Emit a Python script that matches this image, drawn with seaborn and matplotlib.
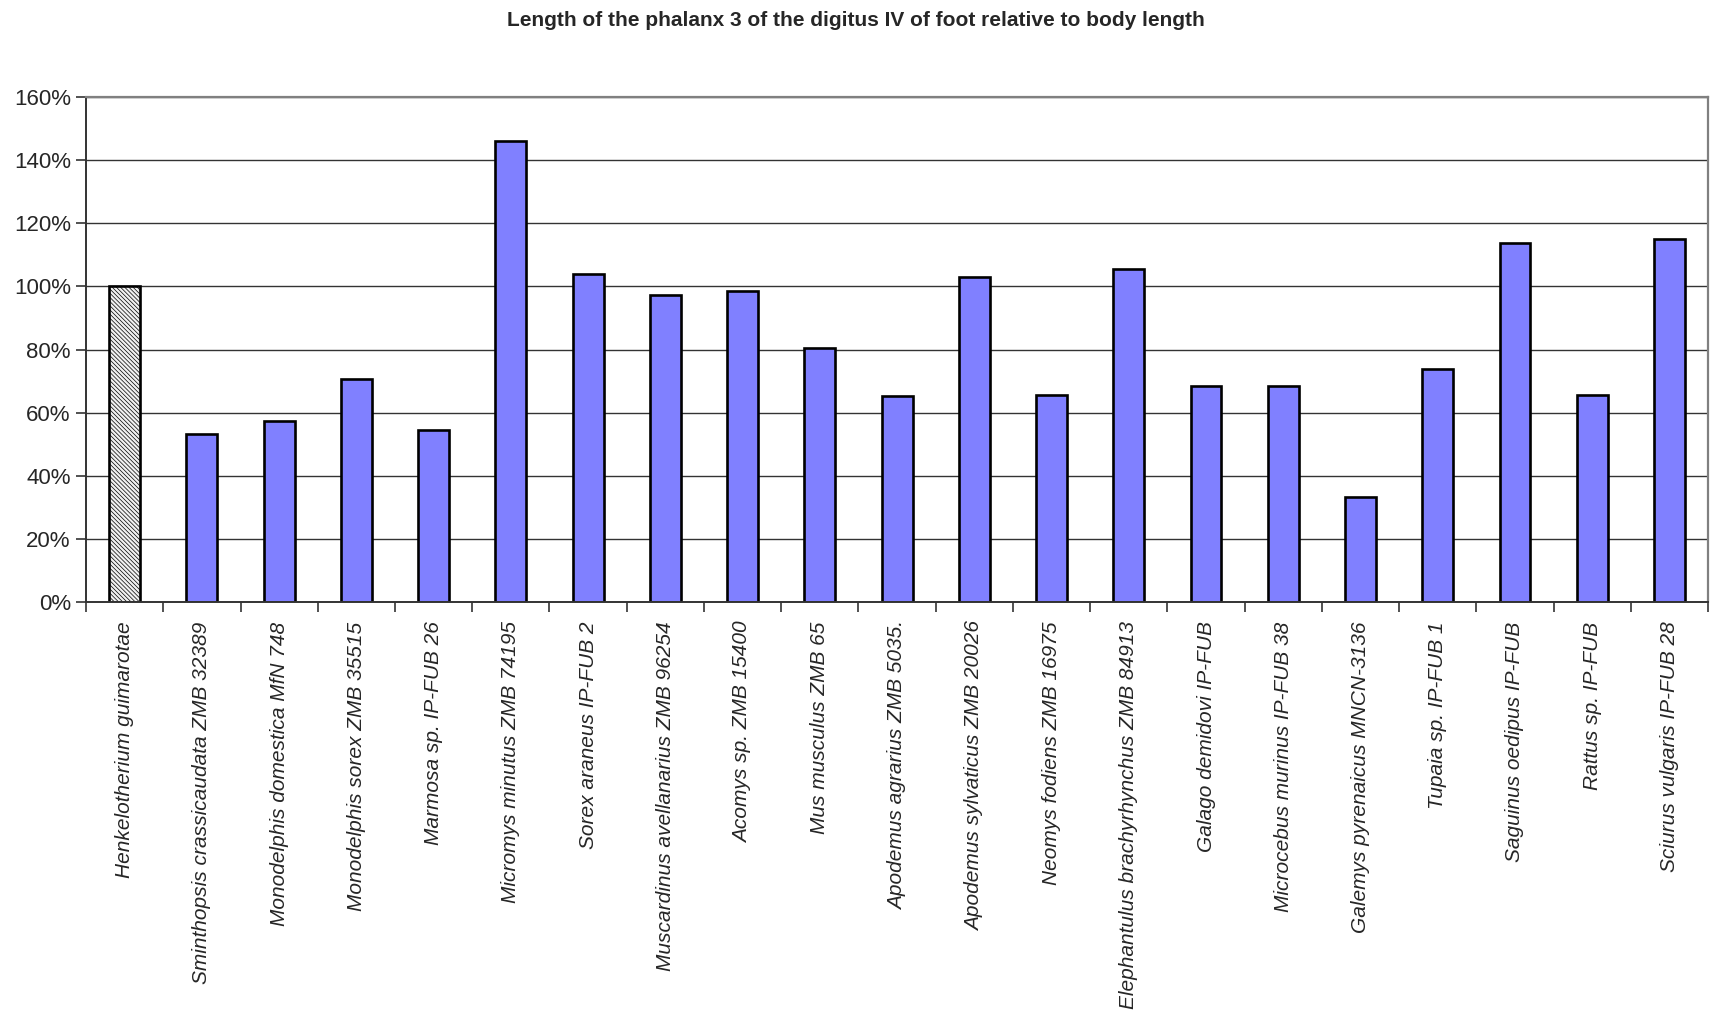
import matplotlib
matplotlib.use("Agg")
import matplotlib.pyplot as plt
from matplotlib.ticker import PercentFormatter, FixedLocator, MultipleLocator
import seaborn as sns
import pandas as pd
import numpy as np

species = [
    "Henkelotherium guimarotae",
    "Sminthopsis crassicaudata ZMB 32389",
    "Monodelphis domestica MfN 748",
    "Monodelphis sorex ZMB 35515",
    "Marmosa sp. IP-FUB 26",
    "Micromys minutus ZMB 74195",
    "Sorex araneus IP-FUB 2",
    "Muscardinus avellanarius ZMB 96254",
    "Acomys sp. ZMB 15400",
    "Mus musculus ZMB 65",
    "Apodemus agrarius ZMB 5035.",
    "Apodemus sylvaticus ZMB 20026",
    "Neomys fodiens ZMB 16975",
    "Elephantulus brachyrhynchus ZMB 84913",
    "Galago demidovi IP-FUB",
    "Microcebus murinus IP-FUB 38",
    "Galemys pyrenaicus MNCN-3136",
    "Tupaia sp. IP-FUB 1",
    "Saguinus oedipus IP-FUB",
    "Rattus sp. IP-FUB",
    "Sciurus vulgaris IP-FUB 28",
]
relative_length = [
    100.0, 53.2, 57.4, 70.8, 54.6, 146.2, 104.0, 97.4, 98.5, 80.5, 65.3,
    103.0, 65.7, 105.4, 68.4, 68.5, 33.2, 73.9, 113.7, 65.7, 115.1,
]

df = pd.DataFrame({"species": species, "value": relative_length})

sns.set_style("white")
plt.rcParams["font.family"] = ["Liberation Sans", "DejaVu Sans"]
plt.rcParams["hatch.color"] = "#a0a0a0"
plt.rcParams["hatch.linewidth"] = 0.5

fig = plt.figure(figsize=(17.11, 10.14), dpi=100)
ax = fig.add_axes([0.0503, 0.4063, 0.948, 0.4980])

sns.barplot(data=df, x="species", y="value", color="#8080FF", saturation=1,
            width=0.4, edgecolor="black", linewidth=1.9, ax=ax)

# reference taxon drawn with a hatched grey fill
ref_bar = ax.patches[0]
ref_bar.set_facecolor("#f0f0f0")
ref_bar.set_hatch("\\\\\\\\\\\\\\\\")

ax.set_xlim(-0.5, len(species) - 0.5)
ax.set_ylim(0, 160)
ax.yaxis.set_major_locator(MultipleLocator(20))
ax.yaxis.set_major_formatter(PercentFormatter(xmax=100, decimals=0))
ax.grid(axis="y", color="#333333", linewidth=1.0)
ax.set_axisbelow(True)

ax.set_xlabel("")
ax.set_ylabel("")

# category labels centred, tick marks between categories
ax.set_xticks(np.arange(len(species)))
ax.set_xticklabels(species, rotation=90, fontstyle="italic", fontsize=15)
ax.tick_params(axis="x", which="major", length=0, pad=14)
ax.xaxis.set_minor_locator(FixedLocator(np.arange(len(species) + 1) - 0.5))
ax.tick_params(axis="x", which="minor", length=7, width=1.2, color="#333333",
               direction="out", bottom=True)
ax.tick_params(axis="y", length=7, width=1.2, color="#333333", direction="out",
               left=True, labelsize=16, pad=4)

for side in ["left", "bottom"]:
    ax.spines[side].set_color("#333333")
    ax.spines[side].set_linewidth(1.4)
for side in ["top", "right"]:
    ax.spines[side].set_visible(True)
    ax.spines[side].set_color("#808080")
    ax.spines[side].set_linewidth(1.6)

fig.text(0.5, 0.980, "Length of the phalanx 3 of the digitus IV of foot relative to body length",
         ha="center", va="center", fontsize=15, fontweight="bold")

fig.savefig("out.png", dpi=100)
